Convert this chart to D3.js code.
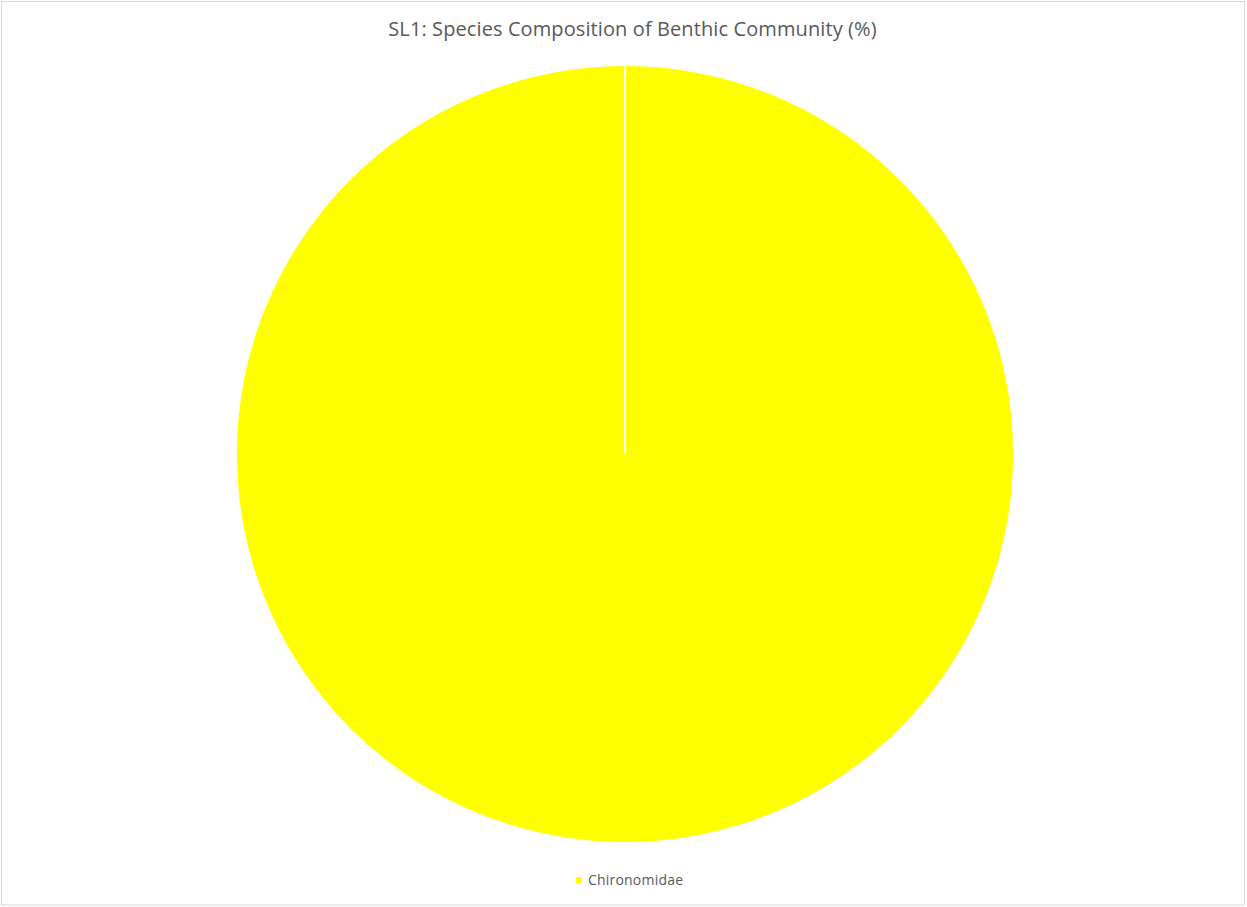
<!DOCTYPE html>
<html>
<head>
<meta charset="utf-8">
<script src="https://cdn.jsdelivr.net/npm/d3@7"></script>
<style>
  html, body { margin: 0; padding: 0; background: #fff; }
  svg { display: block; }
</style>
</head>
<body>
<svg id="chart" width="1247" height="907"></svg>
<script>
// Benthic community composition at station SL1
const chartTitle = "SL1: Species Composition of Benthic Community (%)";
const categories = ["Chironomidae"];
const values = [100];
const colors = ["#FFFF00"];

const W = 1247, H = 907;
const svg = d3.select("#chart");

// chart frame
svg.append("rect")
  .attr("x", 1.5).attr("y", 1.5)
  .attr("width", W - 4).attr("height", H - 3.5)
  .attr("fill", "#fff")
  .attr("stroke", "#d9d9d9").attr("stroke-width", 1);

// title
svg.append("text")
  .attr("x", 632.5).attr("y", 36)
  .attr("text-anchor", "middle")
  .attr("font-family", "'Open Sans', 'Liberation Sans', sans-serif")
  .attr("font-size", 20)
  .attr("letter-spacing", 0.1)
  .attr("fill", "#595959")
  .text(chartTitle);

// pie
const cx = 625, cy = 454, radius = 388;
const data = categories.map((c, i) => ({ name: c, value: values[i], color: colors[i] }));
const pie = d3.pie().value(d => d.value).sort(null);
const arcs = pie(data);
const arc = d3.arc().innerRadius(0).outerRadius(radius);

const g = svg.append("g").attr("transform", `translate(${cx},${cy})`);
g.selectAll("path.slice")
  .data(arcs)
  .join("path")
  .attr("class", "slice")
  .attr("d", arc)
  .attr("fill", d => d.data.color);

// white slice borders along each slice's starting radius
g.selectAll("line.border")
  .data(arcs)
  .join("line")
  .attr("class", "border")
  .attr("x1", 0).attr("y1", 0)
  .attr("x2", d => radius * Math.sin(d.startAngle))
  .attr("y2", d => -radius * Math.cos(d.startAngle))
  .attr("stroke", "#fff")
  .attr("stroke-width", 2);

// legend
const legend = svg.append("g").attr("transform", "translate(576,880)");
const item = legend.selectAll("g.item")
  .data(data)
  .join("g")
  .attr("class", "item");
item.append("rect")
  .attr("x", 0).attr("y", -3)
  .attr("width", 6).attr("height", 6)
  .attr("fill", d => d.color);
item.append("text")
  .attr("x", 12).attr("y", 5)
  .attr("font-family", "'Open Sans', 'Liberation Sans', sans-serif")
  .attr("font-size", 14)
  .attr("letter-spacing", 0.2)
  .attr("fill", "#595959")
  .text(d => d.name);
</script>
</body>
</html>
